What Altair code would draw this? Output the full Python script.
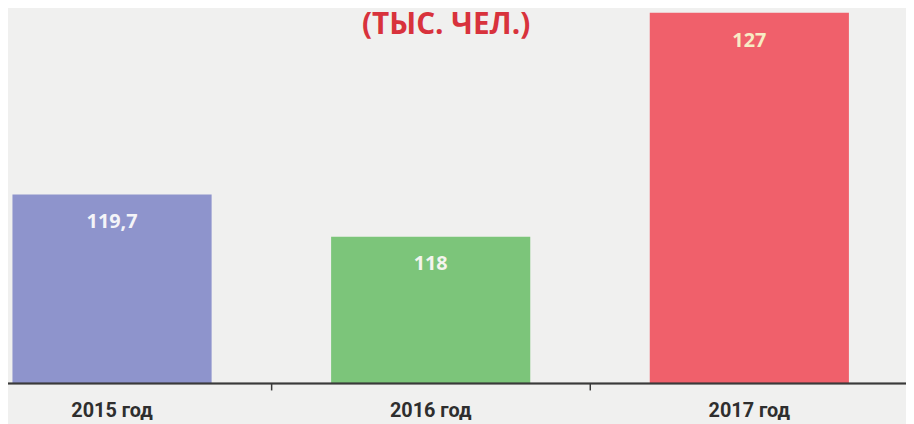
import altair as alt
import pandas as pd

years = ["2015 год", "2016 год", "2017 год"]
values = [119.7, 118.0, 127.0]
value_labels = ["119,7", "118", "127"]
colors = ["#8e94cc", "#7cc57a", "#f0606b"]
title_text = "(ТЫС. ЧЕЛ.)"
base_value = 112.1
top_value = 127.12

df = pd.DataFrame({"year": years, "value": values, "label": value_labels, "color": colors})

x_scale = alt.Scale(domain=years, range=[4.5, 848.4], paddingInner=0.375, paddingOuter=0)
y_scale = alt.Scale(domain=[base_value, top_value], zero=False, nice=False)

x_enc = alt.X("year:N", scale=x_scale, sort=years,
              axis=alt.Axis(title=None, domain=False, ticks=False, labelAngle=0,
                            labelFont="Roboto", labelFontWeight="bold",
                            labelFontSize=20, labelColor="#2e2e2e", labelPadding=17))

bars = alt.Chart(df).mark_bar().encode(
    x=x_enc,
    y=alt.Y("value:Q", scale=y_scale, axis=None),
    y2=alt.datum(base_value),
    color=alt.Color("color:N", scale=None),
)

labels = alt.Chart(df).mark_text(
    baseline="middle", dy=28, font="Open Sans", fontWeight="bold", fontSize=20,
).encode(
    x=alt.X("year:N", scale=x_scale, sort=years),
    y=alt.Y("value:Q", scale=y_scale),
    text="label:N",
    color=alt.Color("year:N", scale=alt.Scale(domain=years, range=["#f4f4f8", "#f4f4ee", "#f7ecc4"]), legend=None),
)

baseline = alt.Chart(df).mark_rule(color="#3a3a3a", strokeWidth=1.5).encode(
    x=alt.value(0), x2=alt.value(906), y=alt.datum(base_value)
)

tick_df = pd.DataFrame({"year": years[1:]})
ticks = alt.Chart(tick_df).mark_rule(color="#3a3a3a", strokeWidth=1.5, xOffset=-60).encode(
    x=alt.X("year:N", scale=x_scale, sort=years, bandPosition=0),
    y=alt.datum(base_value),
    y2=alt.value(384),
)

title = alt.Chart(pd.DataFrame({"t": [title_text]})).mark_text(
    font="Open Sans", fontWeight="bold", fontSize=30, color="#d8323c", baseline="alphabetic",
).encode(x=alt.value(442), y=alt.value(24), text="t:N")

chart = alt.layer(bars, labels, baseline, ticks, title).properties(
    width=906, height=377,
    autosize=alt.AutoSizeParams(type="none"),
    padding={"left": 0, "top": 0, "right": 0, "bottom": 39},
    background="#f0f0ef",
).configure_view(stroke=None)

chart.save("out.html", embed_options={"renderer": "svg", "actions": False})
